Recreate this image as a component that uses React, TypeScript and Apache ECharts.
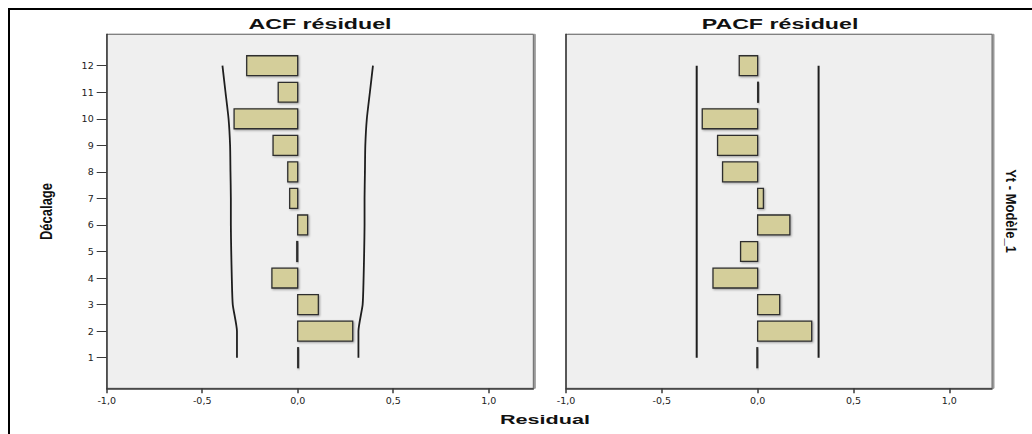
import React, { useEffect, useRef } from 'react';
import * as echarts from 'echarts';

const lags = [1, 2, 3, 4, 5, 6, 7, 8, 9, 10, 11, 12];
const acfValues = [0.004, 0.288, 0.108, -0.135, -0.005, 0.052, -0.042, -0.052, -0.129, -0.333, -0.102, -0.267];
const pacfValues = [-0.004, 0.282, 0.115, -0.233, -0.089, 0.168, 0.03, -0.183, -0.209, -0.289, 0.004, -0.096];
const acfUpper = [0.318, 0.318, 0.34, 0.345, 0.348, 0.35, 0.35, 0.352, 0.354, 0.362, 0.378, 0.394];
const acfLower = [-0.318, -0.318, -0.34, -0.345, -0.348, -0.35, -0.35, -0.352, -0.354, -0.362, -0.378, -0.394];
const pacfUpper = [0.318, 0.318, 0.318, 0.318, 0.318, 0.318, 0.318, 0.318, 0.318, 0.318, 0.318, 0.318];
const pacfLower = [-0.318, -0.318, -0.318, -0.318, -0.318, -0.318, -0.318, -0.318, -0.318, -0.318, -0.318, -0.318];
const xTicks = [-1, -0.5, 0, 0.5, 1];
const panelTitles = ['ACF résiduel', 'PACF résiduel'];
const xAxisTitle = 'Residual';
const yAxisTitle = 'Décalage';
const sideTitle = 'Yt - Modèle_1';

const AXIS_COLOR = '#3a3a3a';
const LABEL_FONT = 'DejaVu Sans';
const TITLE_FONT = 'Liberation Sans, Arial, sans-serif';

const fmt = (v: number) => v.toFixed(1).replace('.', ',');

const renderBar = (params: any, api: any) => {
  const v = api.value(0);
  const lag = api.value(1);
  const p0 = api.coord([0, lag]);
  const p1 = api.coord([v, lag]);
  const h = api.size([0, 0.75])[1];
  const x = Math.min(p0[0], p1[0]);
  const w = Math.max(Math.abs(p1[0] - p0[0]), 0.6);
  return {
    type: 'rect',
    shape: { x, y: p0[1] - h / 2, width: w, height: h },
    style: {
      fill: '#d4ce9a',
      stroke: '#2e2e2e',
      lineWidth: 1.3,
      shadowColor: 'rgba(0,0,0,0.35)',
      shadowBlur: 2,
      shadowOffsetX: 1,
      shadowOffsetY: 1,
    },
  };
};

const makeXAxis = (gridIndex: number, max: number) => ({
  gridIndex,
  type: 'value',
  min: -1,
  max,
  axisLine: { show: true, onZero: false, lineStyle: { color: AXIS_COLOR, width: 1.5 } },
  axisTick: { show: true, customValues: xTicks, length: 5, lineStyle: { color: AXIS_COLOR, width: 1.5 } },
  axisLabel: {
    show: true,
    customValues: xTicks,
    formatter: fmt,
    fontSize: 9.5,
    fontFamily: LABEL_FONT,
    color: '#222',
    margin: 7,
  },
  splitLine: { show: false },
});

const makeYAxis = (gridIndex: number, withLabels: boolean) => ({
  gridIndex,
  type: 'value',
  min: -0.153,
  max: 13.183,
  axisLine: { show: true, onZero: false, lineStyle: { color: AXIS_COLOR, width: 1.5 } },
  axisTick: withLabels
    ? { show: true, customValues: lags, length: 10, lineStyle: { color: AXIS_COLOR, width: 1 } }
    : { show: false },
  axisLabel: withLabels
    ? {
        show: true,
        customValues: lags,
        fontSize: 9.5,
        fontFamily: LABEL_FONT,
        color: '#222',
        margin: 13,
      }
    : { show: false },
  splitLine: { show: false },
});

const gridStyle = {
  show: true,
  backgroundColor: '#efefef',
  borderColor: '#6a6a6a',
  borderWidth: 1,
  shadowColor: '#9a9a9a',
  shadowBlur: 1,
  shadowOffsetX: 2,
  shadowOffsetY: 0,
};

const lineSeries = (axis: number, xs: number[]) => ({
  type: 'line',
  xAxisIndex: axis,
  yAxisIndex: axis,
  data: lags.map((l, i) => [xs[i], l]),
  symbol: 'none',
  smooth: 0.2,
  lineStyle: { color: '#1e1e1e', width: 1.8 },
  z: 4,
  silent: true,
});

export default function App() {
  const ref = useRef<HTMLDivElement>(null);
  useEffect(() => {
    if (!ref.current) return;
    const chart = echarts.init(ref.current, undefined, { renderer: 'svg' });
    chart.setOption({
      animation: false,
      backgroundColor: '#ffffff',
      grid: [
        { ...gridStyle, left: 106.7, top: 34.3, width: 426.6, height: 354 },
        { ...gridStyle, left: 566, top: 34.3, width: 426, height: 354 },
      ],
      xAxis: [makeXAxis(0, 1.2335), makeXAxis(1, 1.2228)],
      yAxis: [makeYAxis(0, true), makeYAxis(1, false)],
      series: [
        {
          type: 'custom',
          xAxisIndex: 0,
          yAxisIndex: 0,
          data: lags.map((l, i) => [acfValues[i], l]),
          encode: { x: 0, y: 1 },
          renderItem: renderBar,
          z: 3,
        },
        lineSeries(0, acfUpper),
        lineSeries(0, acfLower),
        {
          type: 'custom',
          xAxisIndex: 1,
          yAxisIndex: 1,
          data: lags.map((l, i) => [pacfValues[i], l]),
          encode: { x: 0, y: 1 },
          renderItem: renderBar,
          z: 3,
        },
        { ...lineSeries(1, pacfUpper), smooth: false, lineStyle: { color: '#1e1e1e', width: 2 } },
        { ...lineSeries(1, pacfLower), smooth: false, lineStyle: { color: '#1e1e1e', width: 2 } },
      ],
      graphic: [
        { type: 'line', shape: { x1: 8, y1: 9, x2: 1032, y2: 9 }, style: { stroke: '#000', lineWidth: 2 } },
        { type: 'line', shape: { x1: 9, y1: 8, x2: 9, y2: 434 }, style: { stroke: '#000', lineWidth: 2 } },
        {
          type: 'text',
          x: 320,
          y: 23.5,
          scaleX: 1.6,
          style: {
            text: panelTitles[0],
            align: 'center',
            verticalAlign: 'middle',
            font: `bold 14.5px ${TITLE_FONT}`,
            fill: '#111',
          },
        },
        {
          type: 'text',
          x: 780,
          y: 23.5,
          scaleX: 1.6,
          style: {
            text: panelTitles[1],
            align: 'center',
            verticalAlign: 'middle',
            font: `bold 14.5px ${TITLE_FONT}`,
            fill: '#111',
          },
        },
        {
          type: 'text',
          x: 545,
          y: 420,
          scaleX: 1.6,
          style: {
            text: xAxisTitle,
            align: 'center',
            verticalAlign: 'middle',
            font: `bold 13.5px ${TITLE_FONT}`,
            fill: '#111',
          },
        },
        {
          type: 'text',
          x: 46,
          y: 211.5,
          rotation: Math.PI / 2,
          scaleY: 1.25,
          style: {
            text: yAxisTitle,
            align: 'center',
            verticalAlign: 'middle',
            font: `bold 13px ${TITLE_FONT}`,
            fill: '#111',
          },
        },
        {
          type: 'text',
          x: 1011,
          y: 211,
          rotation: -Math.PI / 2,
          scaleY: 1.1,
          style: {
            text: sideTitle,
            align: 'center',
            verticalAlign: 'middle',
            font: `bold 13px ${TITLE_FONT}`,
            fill: '#111',
          },
        },
      ],
    });
    return () => chart.dispose();
  }, []);
  return (
    <div
      ref={ref}
      style={{ position: 'fixed', left: 0, top: 0, width: 1032, height: 434 }}
    />
  );
}
